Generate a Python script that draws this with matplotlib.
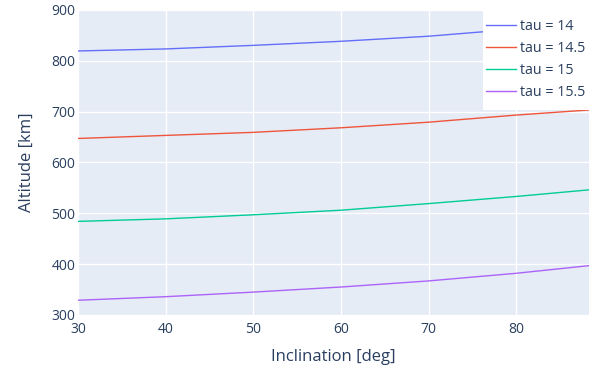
import matplotlib
matplotlib.use("Agg")
import matplotlib.pyplot as plt
from matplotlib.patches import Rectangle

inclination = [30, 40, 50, 60, 70, 80, 88.3]
alt_tau14 = [819, 823, 830, 838, 848, 862, 871]
alt_tau145 = [647, 653, 659, 668, 679, 693, 703]
alt_tau15 = [484, 489, 497, 506, 519, 533, 546]
alt_tau155 = [329, 336, 345, 355, 367, 382, 397]
labels = ["tau = 14", "tau = 14.5", "tau = 15", "tau = 15.5"]
colors = ["#636EFA", "#EF553B", "#00CC96", "#AB63FA"]
xticks = [30, 40, 50, 60, 70, 80]
yticks = [300, 400, 500, 600, 700, 800, 900]

plt.rcParams['font.family'] = ['Open Sans', 'DejaVu Sans']
txt = "#2a3f5f"

W, H = 589, 370
fig = plt.figure(figsize=(W / 100, H / 100), dpi=100)
L, R, T, B = 78, 589, 9.5, 315
ax = fig.add_axes([L / W, 1 - B / H, (R - L) / W, (B - T) / H])
ax.set_facecolor("#E5ECF6")
for s in ax.spines.values():
    s.set_visible(False)
ax.grid(True, color="white", linewidth=1)
ax.set_axisbelow(True)

handles = []
for ys, lab, c in zip([alt_tau14, alt_tau145, alt_tau15, alt_tau155], labels, colors):
    h, = ax.plot(inclination, ys, color=c, linewidth=1, label=lab)
    handles.append(h)

ax.set_xlim(30, 88.3)
ax.set_ylim(300, 900.5)
ax.set_xticks(xticks)
ax.set_yticks(yticks)
ax.tick_params(length=0, labelsize=10, colors=txt)
ax.tick_params(axis='x', pad=5)
ax.tick_params(axis='y', pad=2)
ax.set_xlabel("Inclination [deg]", fontsize=12, color=txt, labelpad=9)
ax.set_ylabel("Altitude [km]", fontsize=12, color=txt, labelpad=12)

# legend background box (figure-level, above the axes)
fig.patches.append(Rectangle((483 / W, 1 - 110 / H), (W - 483) / W, 102 / H,
                             transform=fig.transFigure, facecolor="white",
                             edgecolor="none", zorder=2))
leg = fig.legend(handles=handles, labels=labels, loc="upper left",
                 bbox_to_anchor=(486 / W, 1 - 19 / H),
                 bbox_transform=fig.transFigure, frameon=False,
                 fontsize=10.3, handlelength=2.1, handletextpad=0.3,
                 labelspacing=0.5, borderpad=0, borderaxespad=0)
leg.set_zorder(3)
for t in leg.get_texts():
    t.set_color(txt)

fig.savefig("out.png", dpi=100)
